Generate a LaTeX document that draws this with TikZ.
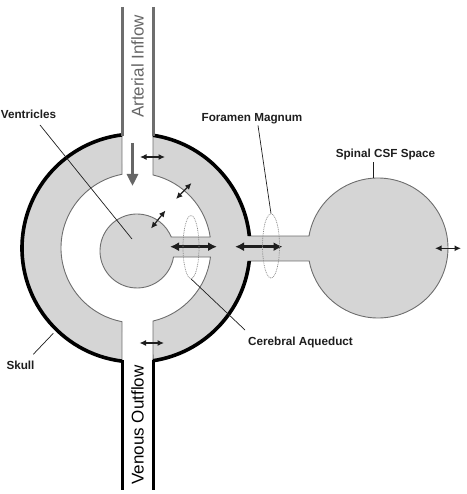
\documentclass[tikz,border=0pt]{standalone}
\usepackage{fontspec}
\setmainfont{Liberation Sans}
\usetikzlibrary{arrows.meta,shapes.geometric}
\definecolor{fillg}{HTML}{D5D5D5}
\definecolor{lineg}{HTML}{6E6E6E}
\definecolor{txtg}{HTML}{666666}
\definecolor{ink}{HTML}{1E1E1E}
\definecolor{dotg}{HTML}{8A8A8A}
\tikzset{
  region/.style={fill=fillg, draw=lineg, line width=0.9pt},
  skull/.style={draw=black, line width=3.6pt},
  artwall/.style={draw=lineg, line width=3pt},
  venwall/.style={draw=black, line width=3pt},
  sarrow/.style={draw=ink, line width=1.2pt, {Latex[length=6.5pt,width=6pt]}-{Latex[length=6.5pt,width=6pt]}},
  tarrow/.style={draw=ink, line width=2.8pt, {Latex[length=9pt,width=9pt]}-{Latex[length=9pt,width=9pt]}},
  bigarrow/.style={draw=txtg, line width=3.6pt, -{Triangle[length=12pt,width=11pt]}},
  pointer/.style={draw=ink, line width=0.7pt},
  dotell/.style={ellipse, draw=dotg, line width=0.7pt, dash pattern=on 0.9pt off 0.9pt, inner sep=0pt},
  lab/.style={text=ink, font=\bfseries\fontsize{11.7}{13}\selectfont, anchor=base, inner sep=0pt},
  vess/.style={font=\fontsize{17}{20}\selectfont, rotate=90, inner sep=0pt}
}
\begin{document}
\begin{tikzpicture}[x=1pt,y=1pt,yscale=-1]
\useasboundingbox (0,0) rectangle (466,494);
\coordinate (C) at (136,248);

% left half of skull ring
\path[region] (C) ++(97.06:114) arc[start angle=97.06, end angle=262.94, radius=114]
  -- (122,174.32) arc[start angle=259.24, end angle=100.76, radius=75] -- cycle;
% right half: ring, aqueduct, ventricles, foramen, spinal space
\path[region] (C) ++(-81.42:114) arc[start angle=-81.42, end angle=-6.04, radius=114]
  -- (309.0,236) arc[start angle=-170.13, end angle=169.3, radius=70]
  -- (249.3,261) arc[start angle=6.55, end angle=81.42, radius=114]
  -- (153,321.05) arc[start angle=76.9, end angle=6.89, radius=75]
  -- (173.5,257) arc[start angle=9.34, end angle=337.77, radius=37]
  -- (210.2,237) arc[start angle=-8.43, end angle=-76.9, radius=75]
  -- cycle;

% skull
\draw[skull] (C) ++(97.06:114) arc[start angle=97.06, end angle=262.94, radius=114];
\draw[skull] (C) ++(-81.42:114) arc[start angle=-81.42, end angle=-6.04, radius=114];
\draw[skull] (C) ++(6.55:114) arc[start angle=6.55, end angle=81.42, radius=114];

% vessels
\draw[artwall] (122,7) -- (122,136);
\draw[artwall] (153,7) -- (153,136.5);
\draw[venwall] (122,360) -- (122,490);
\draw[venwall] (153,359.5) -- (153,490);

\node[vess, text=txtg] (art) at (137.5,66.5) {Arterial Inflow};
\node[vess, text=black] (ven) at (137.5,425) {Venous Outflow};

% arrows
\draw[bigarrow] (132.5,143) -- (132.5,186);
\draw[sarrow] (140,157) -- (165,157);
\draw[sarrow] (176,199) -- (191.5,183);
\draw[sarrow] (151,228.5) -- (165.5,210.5);
\draw[sarrow] (139.5,343) -- (164,343);
\draw[sarrow] (435,248.3) -- (461,248.3);
\draw[tarrow] (170,246.7) -- (217,246.7);
\draw[tarrow] (235,246.7) -- (282.5,246.7);

% dotted ellipses
\node[dotell, minimum width=16pt, minimum height=63pt] (aqe) at (191,247) {};
\node[dotell, minimum width=17pt, minimum height=64pt] (fme) at (271,246) {};

% labels
\node[lab] (vl) at (28.5,119) {Ventricles};
\node[lab] (fm) at (252,122) {Foramen Magnum};
\node[lab] (sc) at (385.5,157.5) {Spinal CSF Space};
\node[lab] (ca) at (300.5,345) {Cerebral Aqueduct};
\node[lab] (sk) at (20.5,369.5) {Skull};

\coordinate (v0) at (40,125);
\coordinate (v1) at (132,239);
\coordinate (f0) at (258,125.5);
\coordinate (s0) at (373,162.5);
\coordinate (s1) at (373,178.5);
\coordinate (c0) at (245,330);
\coordinate (k0) at (33.3,354.3);
\coordinate (k1) at (53.3,333.3);

\draw[pointer] (v0) -- (v1);
\draw[pointer] (f0) -- (fme.north);
\draw[pointer] (s0) -- (s1);
\draw[pointer] (c0) -- (aqe.south);
\draw[pointer] (k0) -- (k1);
\end{tikzpicture}
\end{document}
